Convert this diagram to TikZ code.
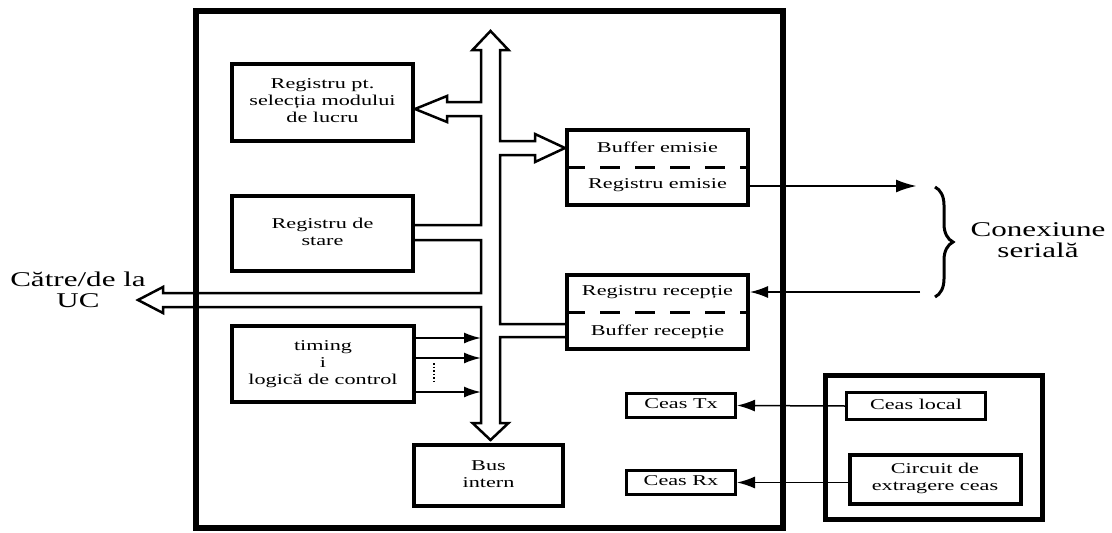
\documentclass[tikz,border=0pt]{standalone}
\usepackage{fontspec}
\setmainfont{Liberation Serif}
\usepackage{graphicx}
\usetikzlibrary{arrows.meta,decorations.pathreplacing}

\newcommand{\wtxt}[1]{\scalebox{1.48}[1]{\begin{tabular}{@{}c@{}}#1\end{tabular}}}

\tikzset{
  blk/.style={rectangle, draw, line width=4pt, inner sep=0pt},
  smallblk/.style={rectangle, draw, line width=3pt, inner sep=0pt},
  outerbox/.style={rectangle, draw, line width=5.5pt, inner sep=0pt},
  lbl/.style={inner sep=0pt, font=\fontsize{15}{17}\selectfont},
  biglbl/.style={inner sep=0pt, font=\fontsize{21}{21}\selectfont},
  bus/.style={line width=2.5pt, line join=miter},
  ctl/.style={-{Latex[length=17pt,width=11pt]}, line width=2pt},
  wire/.style={-{Latex[length=18pt,width=12pt]}, line width=1.5pt},
  divider/.style={dash pattern=on 20pt off 15pt, line width=3pt},
}

\begin{document}
\begin{tikzpicture}[x=1pt, y=-1pt, node distance=77pt]
    \useasboundingbox (0,0) rectangle (1112,533);
    \node[outerbox, minimum width=587pt, minimum height=517pt] (uart) at (489.5,269.5) {};
    \node[outerbox, minimum width=217pt, minimum height=144pt] (clkbox) at (934,447.5) {};

    \node[blk, lbl, minimum width=181pt, minimum height=77pt] (modsel) at (322.5,102.5) {\wtxt{Registru pt.\\selecția modului\\de lucru}};
    \node[blk, lbl, minimum width=181pt, minimum height=75pt] (stare) at (322.5,233.5) {\wtxt{Registru de\\stare}};
    \node[blk, lbl, minimum width=182pt, minimum height=76pt] (timing) at (323,364) {\wtxt{timing\\i\\logică de control}};
    \node[blk, lbl, minimum width=149pt, minimum height=61pt] (busint) at (488.5,475.5) {\wtxt{Bus\\intern}};

    \node[blk, minimum width=181pt, minimum height=75pt] (bufem) at (657.5,167.5) {};
    \node[lbl] (bufemtxt) at (657.5,149) {\wtxt{Buffer emisie}};
    \node[lbl] (regemtxt) at (657.5,185) {\wtxt{Registru emisie}};
    \draw[divider] (bufem.west) -- (bufem.east);

    \node[blk, minimum width=181pt, minimum height=74pt] (regrx) at (657.5,312) {};
    \node[lbl] (regrxtxt) at (657.5,292) {\wtxt{Registru recepție}};
    \node[lbl] (bufrxtxt) at (657.5,332) {\wtxt{Buffer recepție}};
    \draw[divider] (regrx.west) -- (regrx.east);

    \node[smallblk, lbl, minimum width=109pt, minimum height=24pt] (ceastx) at (681,405.5) {\wtxt{Ceas Tx}};
    \node[smallblk, lbl, minimum width=109pt, minimum height=24pt, below of=ceastx] (ceasrx) {\wtxt{Ceas Rx}};
    \node[smallblk, lbl, minimum width=139pt, minimum height=27pt] (ceasloc) at (916,406) {\wtxt{Ceas local}};
    \node[blk, lbl, minimum width=171pt, minimum height=49pt] (circ) at (935,479) {\wtxt{Circuit de\\extragere ceas}};

    \node[biglbl] (uc) at (78,292.5) {\wtxt{Către/de la\\UC}};
    \node[biglbl] (serial) at (1038,242.5) {\wtxt{Conexiune\\serială}};

    \draw[bus] (stare.east |- 0,225) -- (481,225) -- (481,116) -- (447,116) -- (447,122) -- (modsel.east |- 0,109)
        -- (447,96) -- (447,102) -- (481,102) -- (481,50) -- (472.5,50) -- (490.5,31) -- (508.5,50) -- (500,50)
        -- (500,141) -- (535,141) -- (535,134) -- (bufem.west |- 0,148) -- (535,162) -- (535,155) -- (500,155)
        -- (500,324) -- (regrx.west |- 0,324);
    \draw[bus] (stare.east |- 0,240) -- (481,240) -- (481,293) -- (163,293) -- (163,287) -- (138,300) -- (163,313)
        -- (163,307) -- (481,307) -- (481,423) -- (472.5,423) -- (490.5,440) -- (508.5,423) -- (500,423)
        -- (500,337) -- (regrx.west |- 0,337);

    \coordinate (busl) at (481,0);
    \draw[ctl] (timing.east |- 0,338) -- (busl |- 0,338);
    \draw[ctl] (timing.east |- 0,358) -- (busl |- 0,358);
    \draw[ctl] (timing.east |- 0,392) -- (busl |- 0,392);
    \draw[dotted, line width=1.5pt] (434,363) -- (434,382);

    \coordinate (txend) at (917,186);
    \coordinate (rxbeg) at (920,292);
    \draw[-{Latex[length=21pt,width=13pt]}, line width=2.5pt] (bufem.east |- txend) -- (txend);
    \draw[wire] (rxbeg) -- (regrx.east |- rxbeg);

    \coordinate (brtop) at (935,187);
    \coordinate (brbot) at (935,297);
    \draw[decorate, decoration={brace, amplitude=18pt}, line width=3pt] (brtop) -- (brbot);

    \draw[wire] (ceasloc.west) -- (ceastx.east);
    \draw[wire] (circ.west |- ceasrx) -- (ceasrx.east);
\end{tikzpicture}
\end{document}
